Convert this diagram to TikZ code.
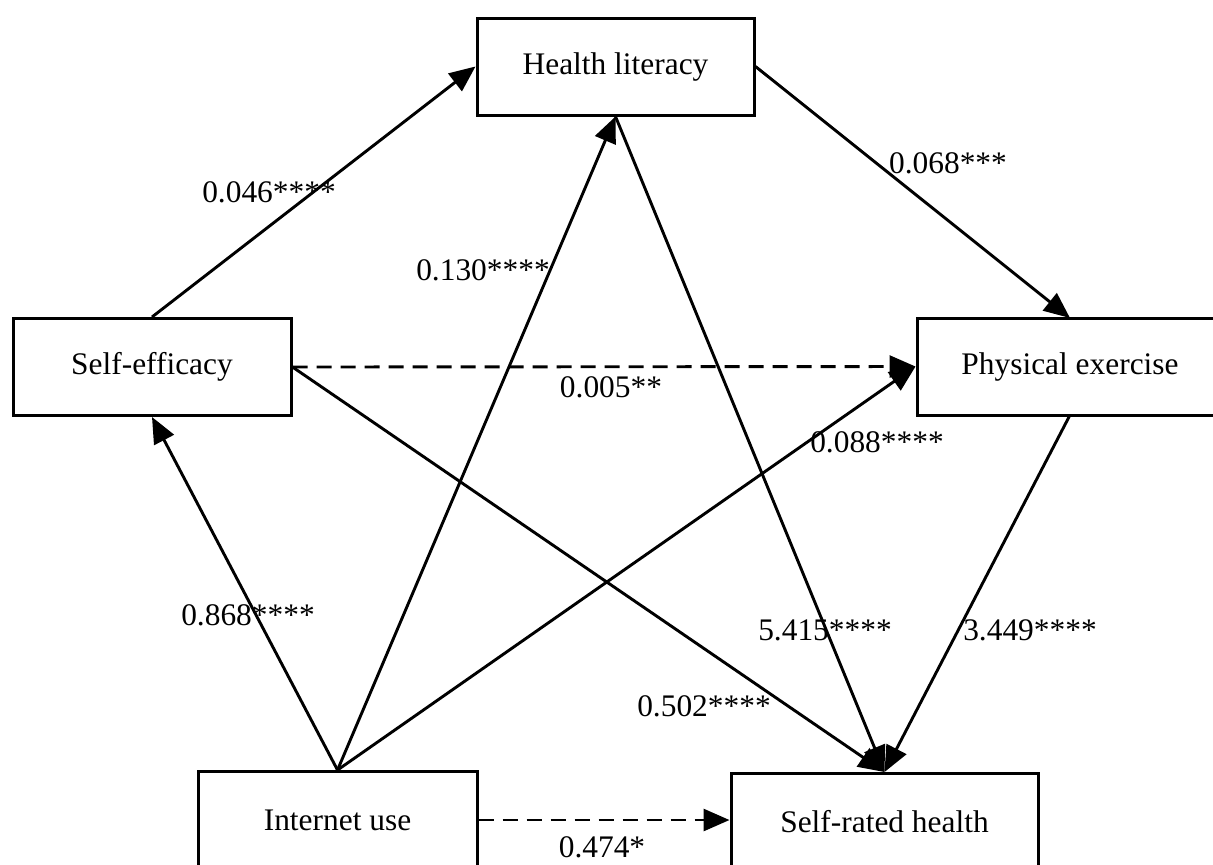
\documentclass[tikz,border=0pt]{standalone}
\usepackage{fontspec}
\setmainfont{Liberation Serif}
\usetikzlibrary{arrows.meta,calc}
\begin{document}
\begin{tikzpicture}[x=0.5pt,y=-0.5pt,
  box/.style={draw,line width=1.5pt,minimum height=48.5pt,inner sep=0pt,font=\fontsize{15.7}{18}\selectfont},
  lbl/.style={font=\fontsize{15.7}{18}\selectfont,inner sep=0pt},
  conn/.style={line width=1.45pt,-{Triangle[length=13pt,width=11pt]}},
  dconn/.style={conn,dash pattern=on 7.5pt off 4.5pt}]
\useasboundingbox (0,0) rectangle (1213,864);
\node[box,minimum width=138.5pt] (hl) at (615.5,66.5) {Health literacy};
\node[box,minimum width=139pt] (se) at (152,367) {Self-efficacy};
\node[box,minimum width=167pt] (pe) at (1084,366.5) {Physical exercise\hspace*{14pt}};
\node[box,minimum width=139.5pt] (iu) at (337.5,820) {Internet use};
\node[box,minimum width=153.5pt] (srh) at (884.5,822) {Self-rated health};

\coordinate (pen) at (1070,318);
\coordinate (pes) at (1070,415);
\draw[conn] (se.north) -- (hl.west);
\draw[conn] (iu.north) -- (se.south);
\draw[conn] (iu.north) -- (hl.south);
\draw[conn] (iu.north) -- (pe.west);
\draw[conn] (hl.east) -- (pen);
\draw[conn] (hl.south) -- (srh.north);
\draw[conn] (se.east) -- (srh.north);
\draw[conn] (pes) -- (srh.north);
\draw[dconn] (se.east) -- (pe.west);
\draw[dconn] (iu.east) -- (iu.east -| srh.west);

\node[lbl] (l1) at (269,192) {0.046****};
\node[lbl] (l2) at (483,270) {0.130****};
\node[lbl] (l3) at (948,163) {0.068***};
\node[lbl] (l4) at (611,387) {0.005**};
\node[lbl] (l5) at (877,442) {0.088****};
\node[lbl] (l6) at (248,615) {0.868****};
\node[lbl] (l7) at (825,630) {5.415****};
\node[lbl] (l8) at (1030,630) {3.449****};
\node[lbl] (l9) at (704,706) {0.502****};
\node[lbl] (l10) at (602,847) {0.474*};
\end{tikzpicture}
\end{document}
